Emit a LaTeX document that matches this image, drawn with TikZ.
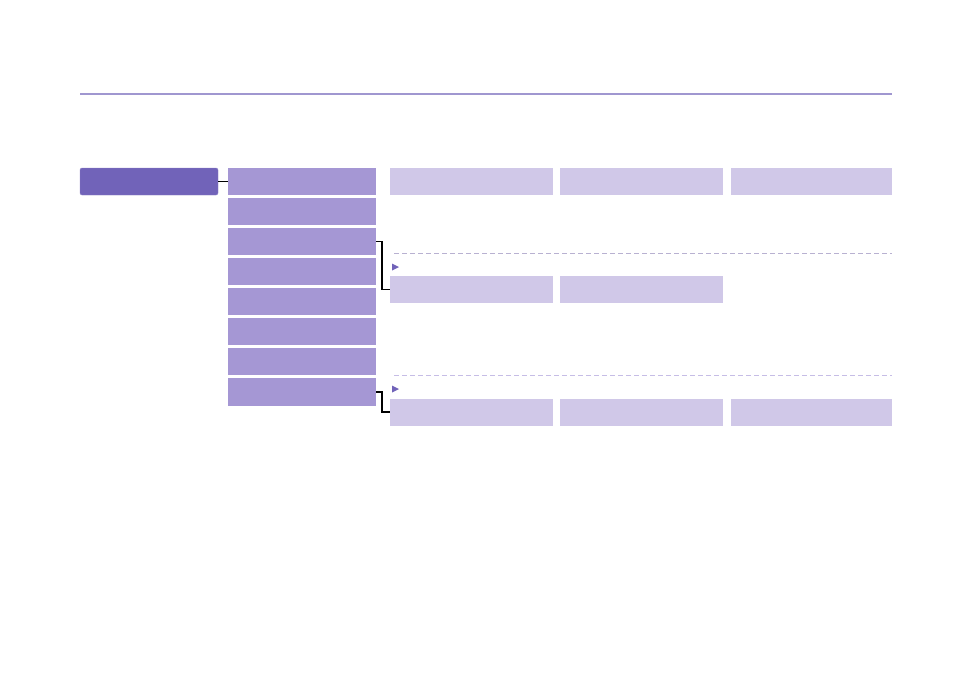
\documentclass[tikz,border=0pt]{standalone}
\usepackage{tikz}
\usetikzlibrary{positioning}
\definecolor{deeppurple}{HTML}{7163B9}
\definecolor{menupurple}{HTML}{A597D4}
\definecolor{palepurple}{HTML}{D0C8E8}
\definecolor{rulepurple}{HTML}{A097D0}
\definecolor{dashpurple}{HTML}{C6BDE6}
\tikzset{
  mainbox/.style={rectangle, rounded corners=2pt, fill=deeppurple, draw=deeppurple!80, minimum width=138pt, minimum height=27pt, inner sep=0pt, outer sep=0pt},
  menubox/.style={rectangle, fill=menupurple, minimum width=148pt, minimum height=27pt, inner sep=0pt, outer sep=0pt},
  subbox/.style={rectangle, fill=palepurple, minimum width=163pt, minimum height=27pt, inner sep=0pt, outer sep=0pt},
  link/.style={draw=black, line width=1.2pt},
  divider/.style={draw=dashpurple, line width=1.2pt, dash pattern=on 5pt off 3pt},
  marker/.style={fill=deeppurple},
}
\begin{document}
\begin{tikzpicture}[x=1pt, y=-1pt, node distance=3pt]
  \useasboundingbox (0,0) rectangle (955,678);

  % header rule
  \draw[rulepurple, line width=1.3pt] (80,94) -- (892,94);

  % main item and menu column
  \node[mainbox] (main) at (149,181.5) {};
  \node[menubox] (menu1) at (302,181.5) {};
  \node[menubox] (menu2) [below=of menu1] {};
  \node[menubox] (menu3) [below=of menu2] {};
  \node[menubox] (menu4) [below=of menu3] {};
  \node[menubox] (menu5) [below=of menu4] {};
  \node[menubox] (menu6) [below=of menu5] {};
  \node[menubox] (menu7) [below=of menu6] {};
  \node[menubox, minimum height=28pt] (menu8) [below=of menu7] {};

  % first row of sub items
  \node[subbox] (rowA1) at (471.5,181.5) {};
  \node[subbox] (rowA2) [right=7pt of rowA1] {};
  \node[subbox, minimum width=161pt] (rowA3) [right=8pt of rowA2] {};

  % second row
  \node[subbox] (rowB1) at (471.5,289.5) {};
  \node[subbox] (rowB2) [right=7pt of rowB1] {};

  % third row
  \node[subbox] (rowC1) at (471.5,412) {};
  \node[subbox] (rowC2) [right=7pt of rowC1] {};
  \node[subbox, minimum width=161pt] (rowC3) [right=8pt of rowC2] {};

  % dividers and markers
  \coordinate (dashA) at (394,253);
  \coordinate (dashB) at (394,375.5);
  \draw[divider, line width=0.8pt, draw=dashpurple!80!gray] (dashA) -- (dashA -| rowA3.east);
  \draw[divider] (dashB) -- (dashB -| rowC3.east);
  \fill[marker] (392,263.5) -- (399,267) -- (392,270.5) -- cycle;
  \fill[marker] (392,385.5) -- (399,389) -- (392,392.5) -- cycle;

  % connectors
  \draw[link] (main.east) -- (menu1.west);
  \draw[link] (menu3.east) -- ++(6,0) |- (rowB1.west);
  \draw[link] (menu8.east) -- ++(6,0) |- (rowC1.west);

\end{tikzpicture}
\end{document}
